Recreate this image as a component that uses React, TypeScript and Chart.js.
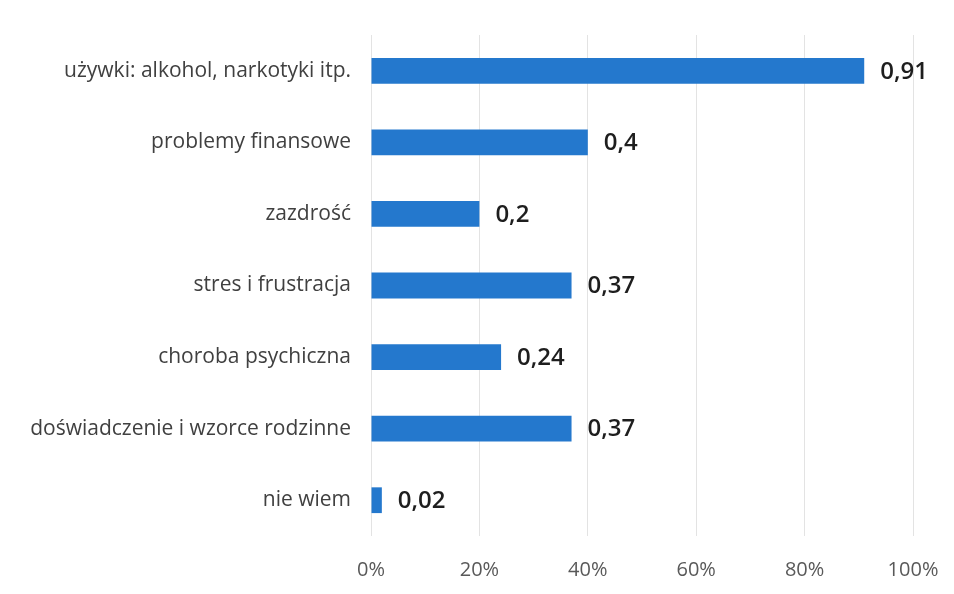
import React, { useEffect, useRef } from "react";
import { Chart, registerables } from "chart.js";

Chart.register(...registerables);

const categories = [
  "używki: alkohol, narkotyki itp.",
  "problemy finansowe",
  "zazdrość",
  "stres i frustracja",
  "choroba psychiczna",
  "doświadczenie i wzorce rodzinne",
  "nie wiem",
];
const values = [0.91, 0.4, 0.2, 0.37, 0.24, 0.37, 0.02];
const valueLabels = ["0,91", "0,4", "0,2", "0,37", "0,24", "0,37", "0,02"];

const FONT = "'Open Sans', sans-serif";

const valueLabelPlugin = {
  id: "valueLabels",
  afterDatasetsDraw(chart: any) {
    const ctx = chart.ctx;
    const meta = chart.getDatasetMeta(0);
    ctx.save();
    ctx.font = `600 24px ${FONT}`;
    ctx.fillStyle = "#1e1e1e";
    ctx.textAlign = "left";
    ctx.textBaseline = "middle";
    meta.data.forEach((bar: any, i: number) => {
      ctx.fillText(valueLabels[i], bar.x + 16, bar.y + 1);
    });
    ctx.restore();
  },
};

export default function App() {
  const ref = useRef<HTMLCanvasElement>(null);
  useEffect(() => {
    document.body.style.margin = "0";
    const chart = new Chart(ref.current!, {
      type: "bar",
      data: {
        labels: categories,
        datasets: [
          {
            data: values,
            backgroundColor: "#2478cd",
            barPercentage: 0.36,
            categoryPercentage: 1,
          },
        ],
      },
      options: {
        indexAxis: "y",
        animation: false,
        responsive: false,
        maintainAspectRatio: false,
        layout: { padding: { top: 35, right: 41, left: 0, bottom: 0 } },
        plugins: { legend: { display: false }, tooltip: { enabled: false } },
        scales: {
          x: {
            min: 0,
            max: 1,
            ticks: {
              stepSize: 0.2,
              padding: 22,
              color: "#595959",
              font: { family: FONT, size: 20 },
              callback: (v: any) => Math.round(Number(v) * 100) + "%",
            },
            grid: { color: "#e3e3e3", drawTicks: false },
            border: { display: false },
            afterFit: (s: any) => {
              s.height = 58;
              s.paddingRight = 0;
              s.paddingLeft = 0;
            },
          },
          y: {
            ticks: {
              padding: 20,
              color: "#404040",
              font: { family: FONT, size: 21 },
            },
            grid: { display: false, drawTicks: false },
            border: { display: false },
            afterFit: (s: any) => {
              s.width = 371;
            },
          },
        },
      },
      plugins: [valueLabelPlugin],
    });
    return () => chart.destroy();
  }, []);
  return (
    <div style={{ width: 954, height: 594, position: "relative", background: "#fff" }}>
      <canvas ref={ref} width={954} height={594} />
    </div>
  );
}
